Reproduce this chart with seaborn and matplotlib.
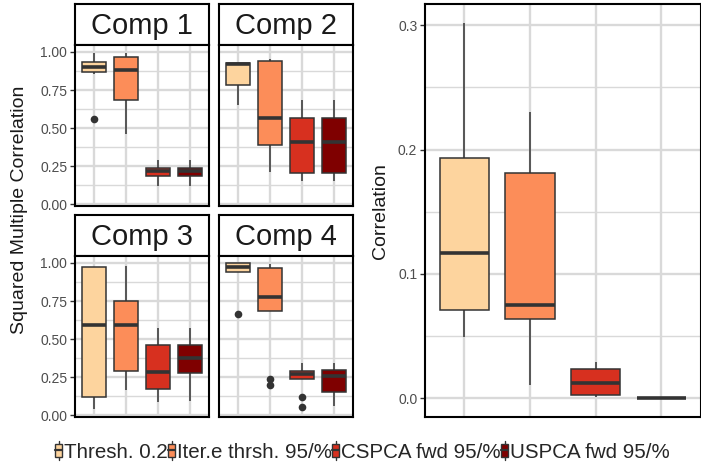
import numpy as np
import pandas as pd
import matplotlib
matplotlib.use("Agg")
import matplotlib.pyplot as plt
import matplotlib.ticker as mticker
from matplotlib.legend_handler import HandlerBase
from matplotlib.patches import Rectangle, Patch
from matplotlib.lines import Line2D
import seaborn as sns

# ── Dados (resumo de 5 números por caixa: min, q1, mediana, q3, max) ─────────
methods = ["Thresh. 0.2", "Iter.e thrsh. 95/%", "CSPCA fwd 95/%", "USPCA fwd 95/%"]
colors = ["#FDD49E", "#FC8D59", "#D7301F", "#7F0000"]

comp1_five = [[0.853, 0.869, 0.902, 0.932, 0.993],
              [0.464, 0.683, 0.882, 0.965, 0.993],
              [0.120, 0.186, 0.221, 0.241, 0.293],
              [0.120, 0.186, 0.221, 0.241, 0.293]]
comp1_out_method = [0]
comp1_out_value = [0.562]

comp2_five = [[0.650, 0.781, 0.919, 0.928, 0.928],
              [0.214, 0.390, 0.569, 0.941, 0.956],
              [0.153, 0.206, 0.411, 0.569, 0.687],
              [0.153, 0.206, 0.411, 0.569, 0.687]]
comp2_out_method = []
comp2_out_value = []

comp3_five = [[0.043, 0.123, 0.591, 0.974, 0.974],
              [0.167, 0.290, 0.595, 0.747, 0.978],
              [0.091, 0.173, 0.286, 0.463, 0.571],
              [0.097, 0.279, 0.379, 0.463, 0.571]]
comp3_out_method = []
comp3_out_value = []

comp4_five = [[0.942, 0.942, 0.974, 1.000, 1.000],
              [0.686, 0.686, 0.775, 0.968, 0.994],
              [0.236, 0.236, 0.271, 0.290, 0.346],
              [0.065, 0.154, 0.260, 0.297, 0.346]]
comp4_out_method = [0, 1, 1, 2, 2]
comp4_out_value = [0.662, 0.238, 0.199, 0.119, 0.058]

corr_five = [[0.0492, 0.0706, 0.1166, 0.193, 0.302],
             [0.0107, 0.0634, 0.0751, 0.181, 0.230],
             [0.0013, 0.0029, 0.0120, 0.0233, 0.0294],
             [0.0, 0.0, 0.0, 0.0, 0.0]]

# ── Estilo ───────────────────────────────────────────────────────────────────
sns.set_theme(style="white")
plt.rcParams["font.family"] = ["Liberation Sans", "DejaVu Sans"]

W, H = 701, 468
fig = plt.figure(figsize=(W / 100, H / 100), dpi=100)
GRID = "#d9d9d9"
DARK = "#333333"


def px_axes(x0, y0, x1, y1):
    return fig.add_axes([x0 / W, 1 - y1 / H, (x1 - x0) / W, (y1 - y0) / H])


def long_df(five):
    rows = []
    for m, vals in zip(methods, five):
        for v in vals:
            rows.append({"method": m, "value": v})
    return pd.DataFrame(rows)


def draw_box(ax, five, out_m, out_v, ylim, major, minor, show_labels):
    df = long_df(five)
    sns.boxplot(data=df, x="method", y="value", hue="method", order=methods,
                hue_order=methods, palette=colors, saturation=1, legend=False,
                whis=(0, 100), width=0.75, linecolor=DARK, linewidth=1.1,
                showcaps=False, showfliers=False,
                medianprops={"linewidth": 2.6, "color": DARK}, ax=ax)
    if out_v:
        odf = pd.DataFrame({"method": [methods[i] for i in out_m], "value": out_v})
        sns.stripplot(data=odf, x="method", y="value", order=methods, jitter=False,
                      color=DARK, size=5.5, ax=ax)
    ax.set_xlim(-0.6, 3.6)
    ax.set_ylim(*ylim)
    ax.set_xlabel("")
    ax.set_ylabel("")
    ax.yaxis.set_major_locator(mticker.MultipleLocator(major))
    ax.yaxis.set_minor_locator(mticker.MultipleLocator(minor))
    ax.set_axisbelow(True)
    ax.grid(True, which="major", color=GRID, linewidth=1.7)
    ax.grid(True, which="minor", axis="y", color=GRID, linewidth=1.0)
    ax.tick_params(axis="x", length=0, labelbottom=False)
    ax.tick_params(axis="y", which="minor", length=0)
    if show_labels:
        ax.tick_params(axis="y", which="major", length=3.5, width=1, color=DARK,
                       labelsize=10, labelcolor="#4d4d4d", pad=2, left=True)
    else:
        ax.tick_params(axis="y", which="major", length=0, labelleft=False)
    for s in ax.spines.values():
        s.set_color("black")
        s.set_linewidth(1.5)


def strip(x0, y0, x1, y1, label):
    sa = px_axes(x0, y0, x1, y1)
    sa.set_xticks([])
    sa.set_yticks([])
    sa.set_facecolor("white")
    for s in sa.spines.values():
        s.set_color("black")
        s.set_linewidth(1.5)
    sa.text(0.5, 0.47, label, ha="center", va="center", fontsize=21,
            color="#1a1a1a", transform=sa.transAxes)


# ── Facetas à esquerda ───────────────────────────────────────────────────────
facets = [
    ("Comp 1", comp1_five, comp1_out_method, comp1_out_value, 75, 209, 4, True),
    ("Comp 2", comp2_five, comp2_out_method, comp2_out_value, 219, 353, 4, False),
    ("Comp 3", comp3_five, comp3_out_method, comp3_out_value, 75, 209, 215, True),
    ("Comp 4", comp4_five, comp4_out_method, comp4_out_value, 219, 353, 215, False),
]
for label, five, om, ov, x0, x1, top, lab in facets:
    strip(x0, top, x1, top + 41, label)
    ax = px_axes(x0, top + 41, x1, top + 202)
    draw_box(ax, five, om, ov, (-0.01, 1.045), 0.25, 0.125, lab)
    ax.yaxis.set_major_formatter(mticker.FormatStrFormatter("%.2f"))

fig.text(20 / W, 1 - 210 / H, "Squared Multiple Correlation", rotation=90,
         ha="center", va="center", fontsize=14, color="#1a1a1a")

# ── Painel à direita ─────────────────────────────────────────────────────────
ax = px_axes(425, 4, 700.5, 417)
draw_box(ax, corr_five, [], [], (-0.0151, 0.317), 0.1, 0.05, True)
ax.yaxis.set_major_formatter(mticker.FormatStrFormatter("%.1f"))
fig.text(380 / W, 1 - 211 / H, "Correlation", rotation=90,
         ha="center", va="center", fontsize=14, color="#1a1a1a")


# ── Legenda com chave de boxplot ─────────────────────────────────────────────
class BoxKey(HandlerBase):
    def create_artists(self, legend, orig, xd, yd, width, height, fontsize, trans):
        fc = orig.get_facecolor()
        cx = xd + width / 2
        bw = width * 0.9
        bot, top = yd - height * 0.15, yd + height * 1.15
        b0, b1 = yd + height * 0.05, yd + height * 0.95
        mid = yd + height * 0.5
        art = [
            Line2D([cx, cx], [bot, top], color=DARK, lw=1.0, transform=trans),
            Rectangle((cx - bw / 2, b0), bw, b1 - b0, facecolor=fc, edgecolor=DARK,
                      lw=1.0, transform=trans),
            Line2D([cx - bw / 2, cx + bw / 2], [mid, mid], color=DARK, lw=1.6,
                   transform=trans),
        ]
        return art


handles = [Patch(facecolor=c) for c in colors]
fig.legend(handles, methods, loc="center", bbox_to_anchor=(362 / W, 1 - 452 / H),
           ncol=4, frameon=False, fontsize=14.8, handlelength=0.4,
           handleheight=0.7, handletextpad=0.05, columnspacing=0.0,
           borderpad=0, handler_map={Patch: BoxKey()})

fig.savefig("out.png", dpi=100)
